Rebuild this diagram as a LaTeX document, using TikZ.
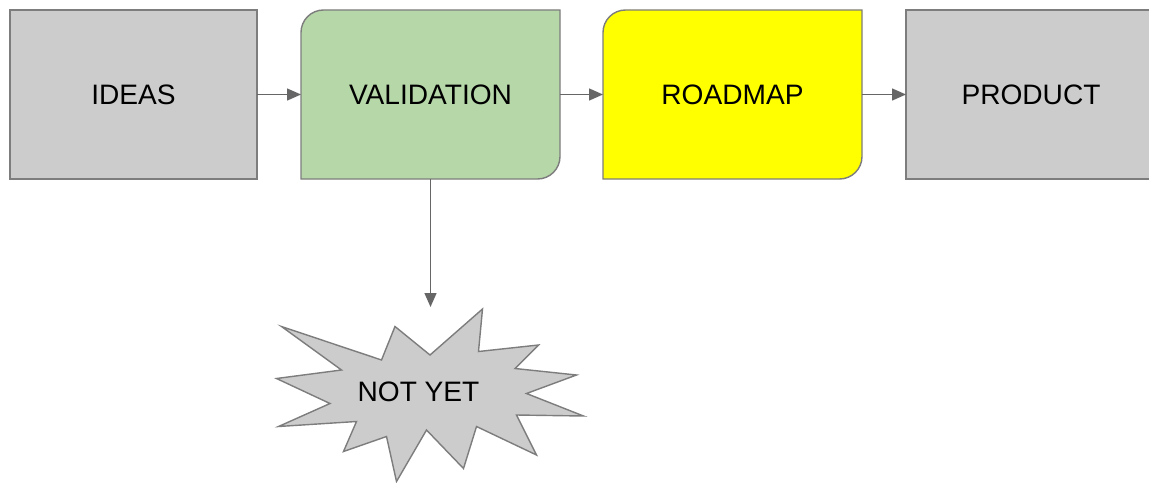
\documentclass[tikz,border=0pt]{standalone}
\usepackage{fontspec}
\setmainfont{Liberation Sans}
\usepackage{tikz}
\usetikzlibrary{arrows.meta, positioning, backgrounds}
\definecolor{boxgray}{RGB}{204,204,204}
\definecolor{linegray}{RGB}{102,102,102}
\definecolor{edgegray}{RGB}{125,125,125}
\definecolor{valgreen}{RGB}{182,215,168}
\definecolor{mapyellow}{RGB}{255,255,0}
\tikzset{
    stage/.style={minimum width=4.94cm, minimum height=3.38cm, inner sep=0pt, outer sep=0pt, font=\fontsize{16}{19}\selectfont},
    flatbox/.style={stage, draw=edgegray, fill=boxgray, line width=0.8pt},
    softbox/.style={draw=edgegray, line width=0.8pt},
    flow/.style={draw=linegray, line width=0.8pt, -{Triangle[length=2.8mm, width=2.4mm]}},
    burst/.style={draw=edgegray, fill=boxgray, line width=0.8pt}
}

\begin{document}
\begin{tikzpicture}
    \useasboundingbox (0,0) rectangle (22.98,-9.64);
    % top row
    \node[flatbox] (ideas) at (2.67,-1.89) {IDEAS};
    \node[stage, minimum width=5.18cm, right=0.88cm of ideas] (valid) {VALIDATION};
    \node[stage, minimum width=5.18cm, right=0.86cm of valid] (roadmap) {ROADMAP};
    \node[flatbox, minimum width=5cm, right=0.88cm of roadmap] (product) {PRODUCT};
    \begin{scope}[on background layer]
        \draw[softbox, fill=valgreen] ([yshift=-4.5mm]valid.north west) arc[start angle=180, end angle=90, radius=4.5mm]
            -- (valid.north east) -- ([yshift=4.5mm]valid.south east) arc[start angle=0, end angle=-90, radius=4.5mm]
            -- (valid.south west) -- cycle;
        \draw[softbox, fill=mapyellow] ([yshift=-4.5mm]roadmap.north west) arc[start angle=180, end angle=90, radius=4.5mm]
            -- (roadmap.north east) -- ([yshift=4.5mm]roadmap.south east) arc[start angle=0, end angle=-90, radius=4.5mm]
            -- (roadmap.south west) -- cycle;
    \end{scope}
    \draw[flow] (ideas.east) -- (valid.west);
    \draw[flow] (valid.east) -- (roadmap.west);
    \draw[flow] (roadmap.east) -- (product.west);
    % rejected branch
    \coordinate[below=2.56cm of valid.south] (drop);
    \draw[flow] (valid.south) -- (drop);
    \draw[burst] (9.65,-6.18) -- (9.57,-7.03) -- (10.77,-6.90) -- (10.30,-7.37) -- (11.53,-7.50)
        -- (10.53,-7.87) -- (11.67,-8.32) -- (10.33,-8.30) -- (10.73,-9.10) -- (9.53,-8.53)
        -- (9.27,-9.37) -- (8.53,-8.60) -- (7.93,-9.63) -- (7.73,-8.73) -- (6.87,-9.03)
        -- (7.13,-8.43) -- (5.57,-8.53) -- (6.60,-8.07) -- (5.53,-7.57) -- (6.83,-7.40)
        -- (5.63,-6.53) -- (7.63,-7.20) -- (7.90,-6.53) -- (8.60,-7.10) -- cycle;
    \node[font=\fontsize{16}{19}\selectfont] (notyet) at (8.37,-7.83) {NOT YET};
\end{tikzpicture}
\end{document}
